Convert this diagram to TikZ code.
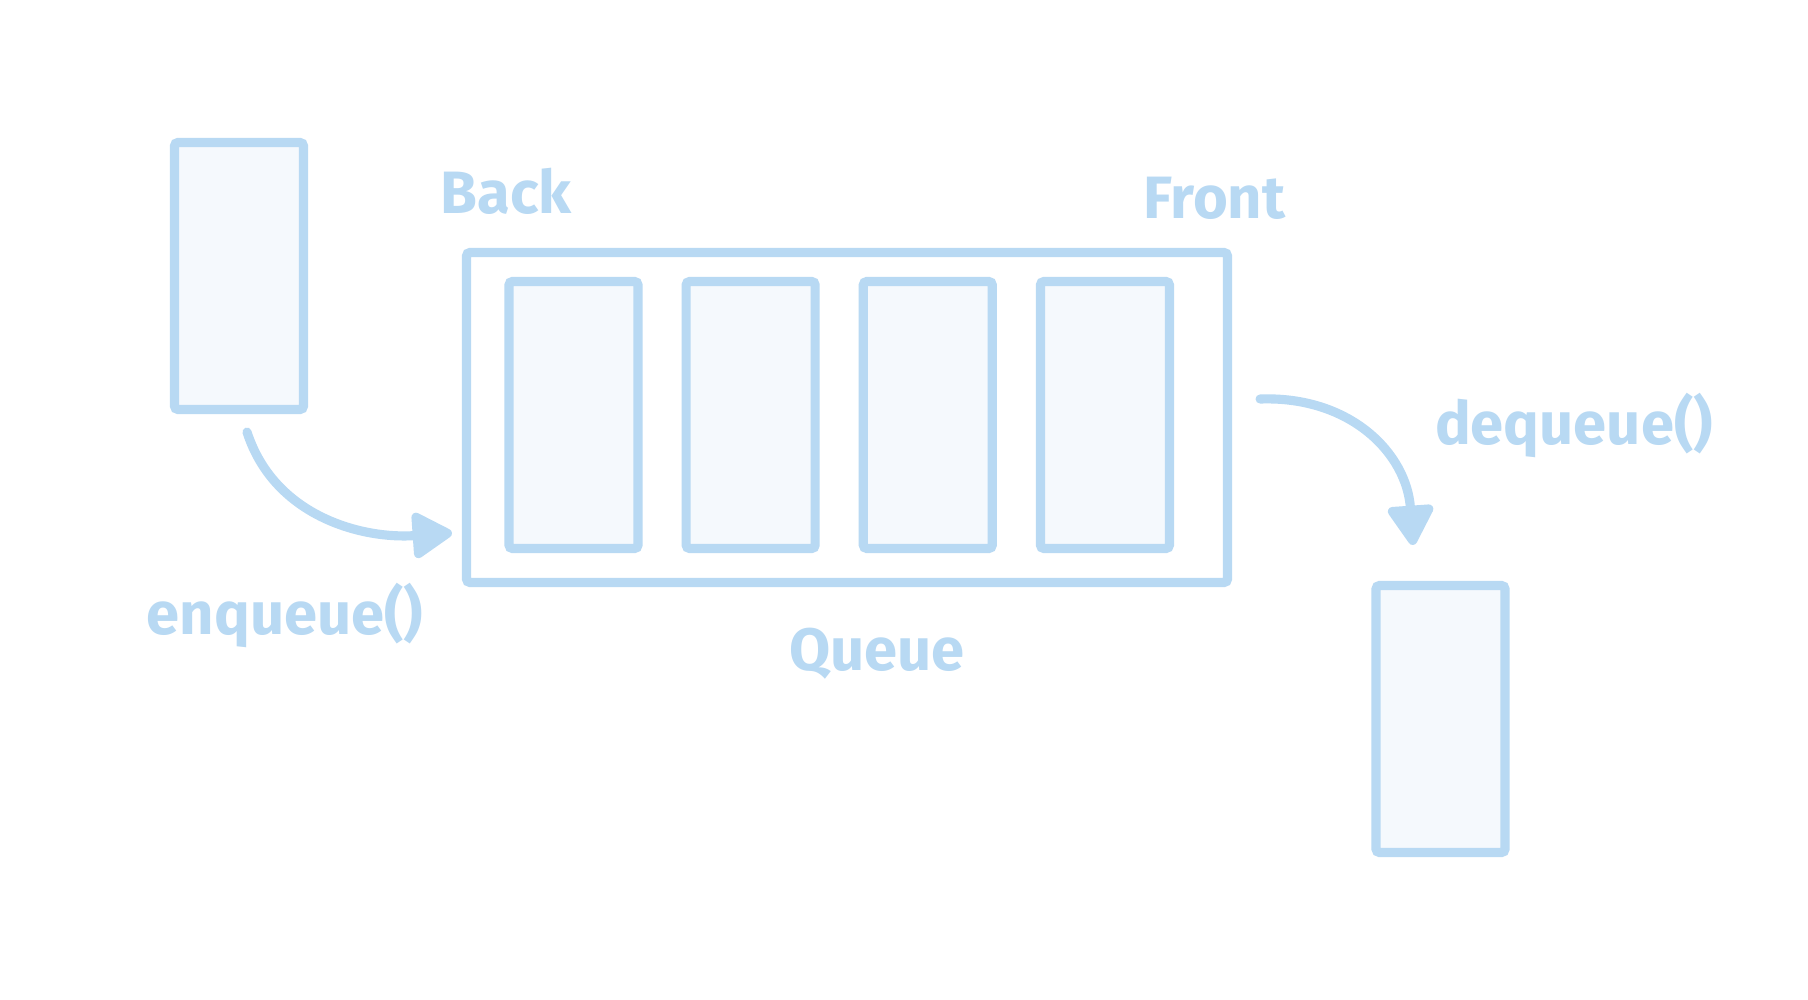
\documentclass[tikz,border=0pt]{standalone}
\usepackage{fontspec}
\setmainfont{Fira Sans}
\usetikzlibrary{arrows.meta,positioning}
\definecolor{sketchblue}{HTML}{B8D9F3}
\definecolor{sketchfill}{HTML}{F5F9FD}

\begin{document}
\begin{tikzpicture}[
  node distance=3.9mm and 3.9mm,
  every node/.style={font=\fontsize{17}{19}\selectfont\bfseries,text=sketchblue},
  cell/.style={draw=sketchblue,fill=sketchfill,line width=2.6pt,rounded corners=1pt,
    minimum width=12.9mm,minimum height=26.7mm,inner sep=0pt},
  container/.style={draw=sketchblue,line width=2.6pt,rounded corners=1pt,
    minimum width=76.1mm,minimum height=33mm,inner sep=0pt},
  lbl/.style={inner sep=0pt},
  arrow/.style={-{Triangle[length=4.4mm,width=5mm,round,fill=sketchblue]},line width=2.6pt,
    draw=sketchblue,line cap=round}
]
  \path[use as bounding box,fill=white] (0,0) rectangle (18.08,-9.99);

  \node[container] (queue) at (8.47,-4.175) {};
  \node[cell] (c1) at (5.735,-4.15) {};
  \node[cell,right=of c1] (c2) {};
  \node[cell,right=of c2] (c3) {};
  \node[cell,right=of c3] (c4) {};

  \node[cell] (inbox) at (2.39,-2.76) {};
  \node[cell] (outbox) at (14.405,-7.19) {};

  \node[lbl,anchor=south west] (back) at ([xshift=-2.2mm,yshift=3.3mm]queue.north west) {Back};
  \node[lbl,anchor=south east] (front) at ([xshift=5.4mm,yshift=2.8mm]queue.north east) {Front};
  \node[lbl,below=4mm of queue,xshift=3mm] (qname) {Queue};
  \node[lbl,below=16.8mm of inbox,xshift=4.6mm] (enq) {enqueue()};
  \node[lbl] (deq) at (15.74,-4.25) {dequeue()};

  \draw[arrow] ([shift={(0.08,-0.18)}]inbox.south) to[out=-72,in=184]
    ([shift={(-0.1,-1.155)}]queue.west);
  \draw[arrow] ([shift={(0.28,0.185)}]queue.east) to[out=2,in=94,looseness=1.1]
    ([shift={(-0.275,0.36)}]outbox.north);
\end{tikzpicture}
\end{document}
